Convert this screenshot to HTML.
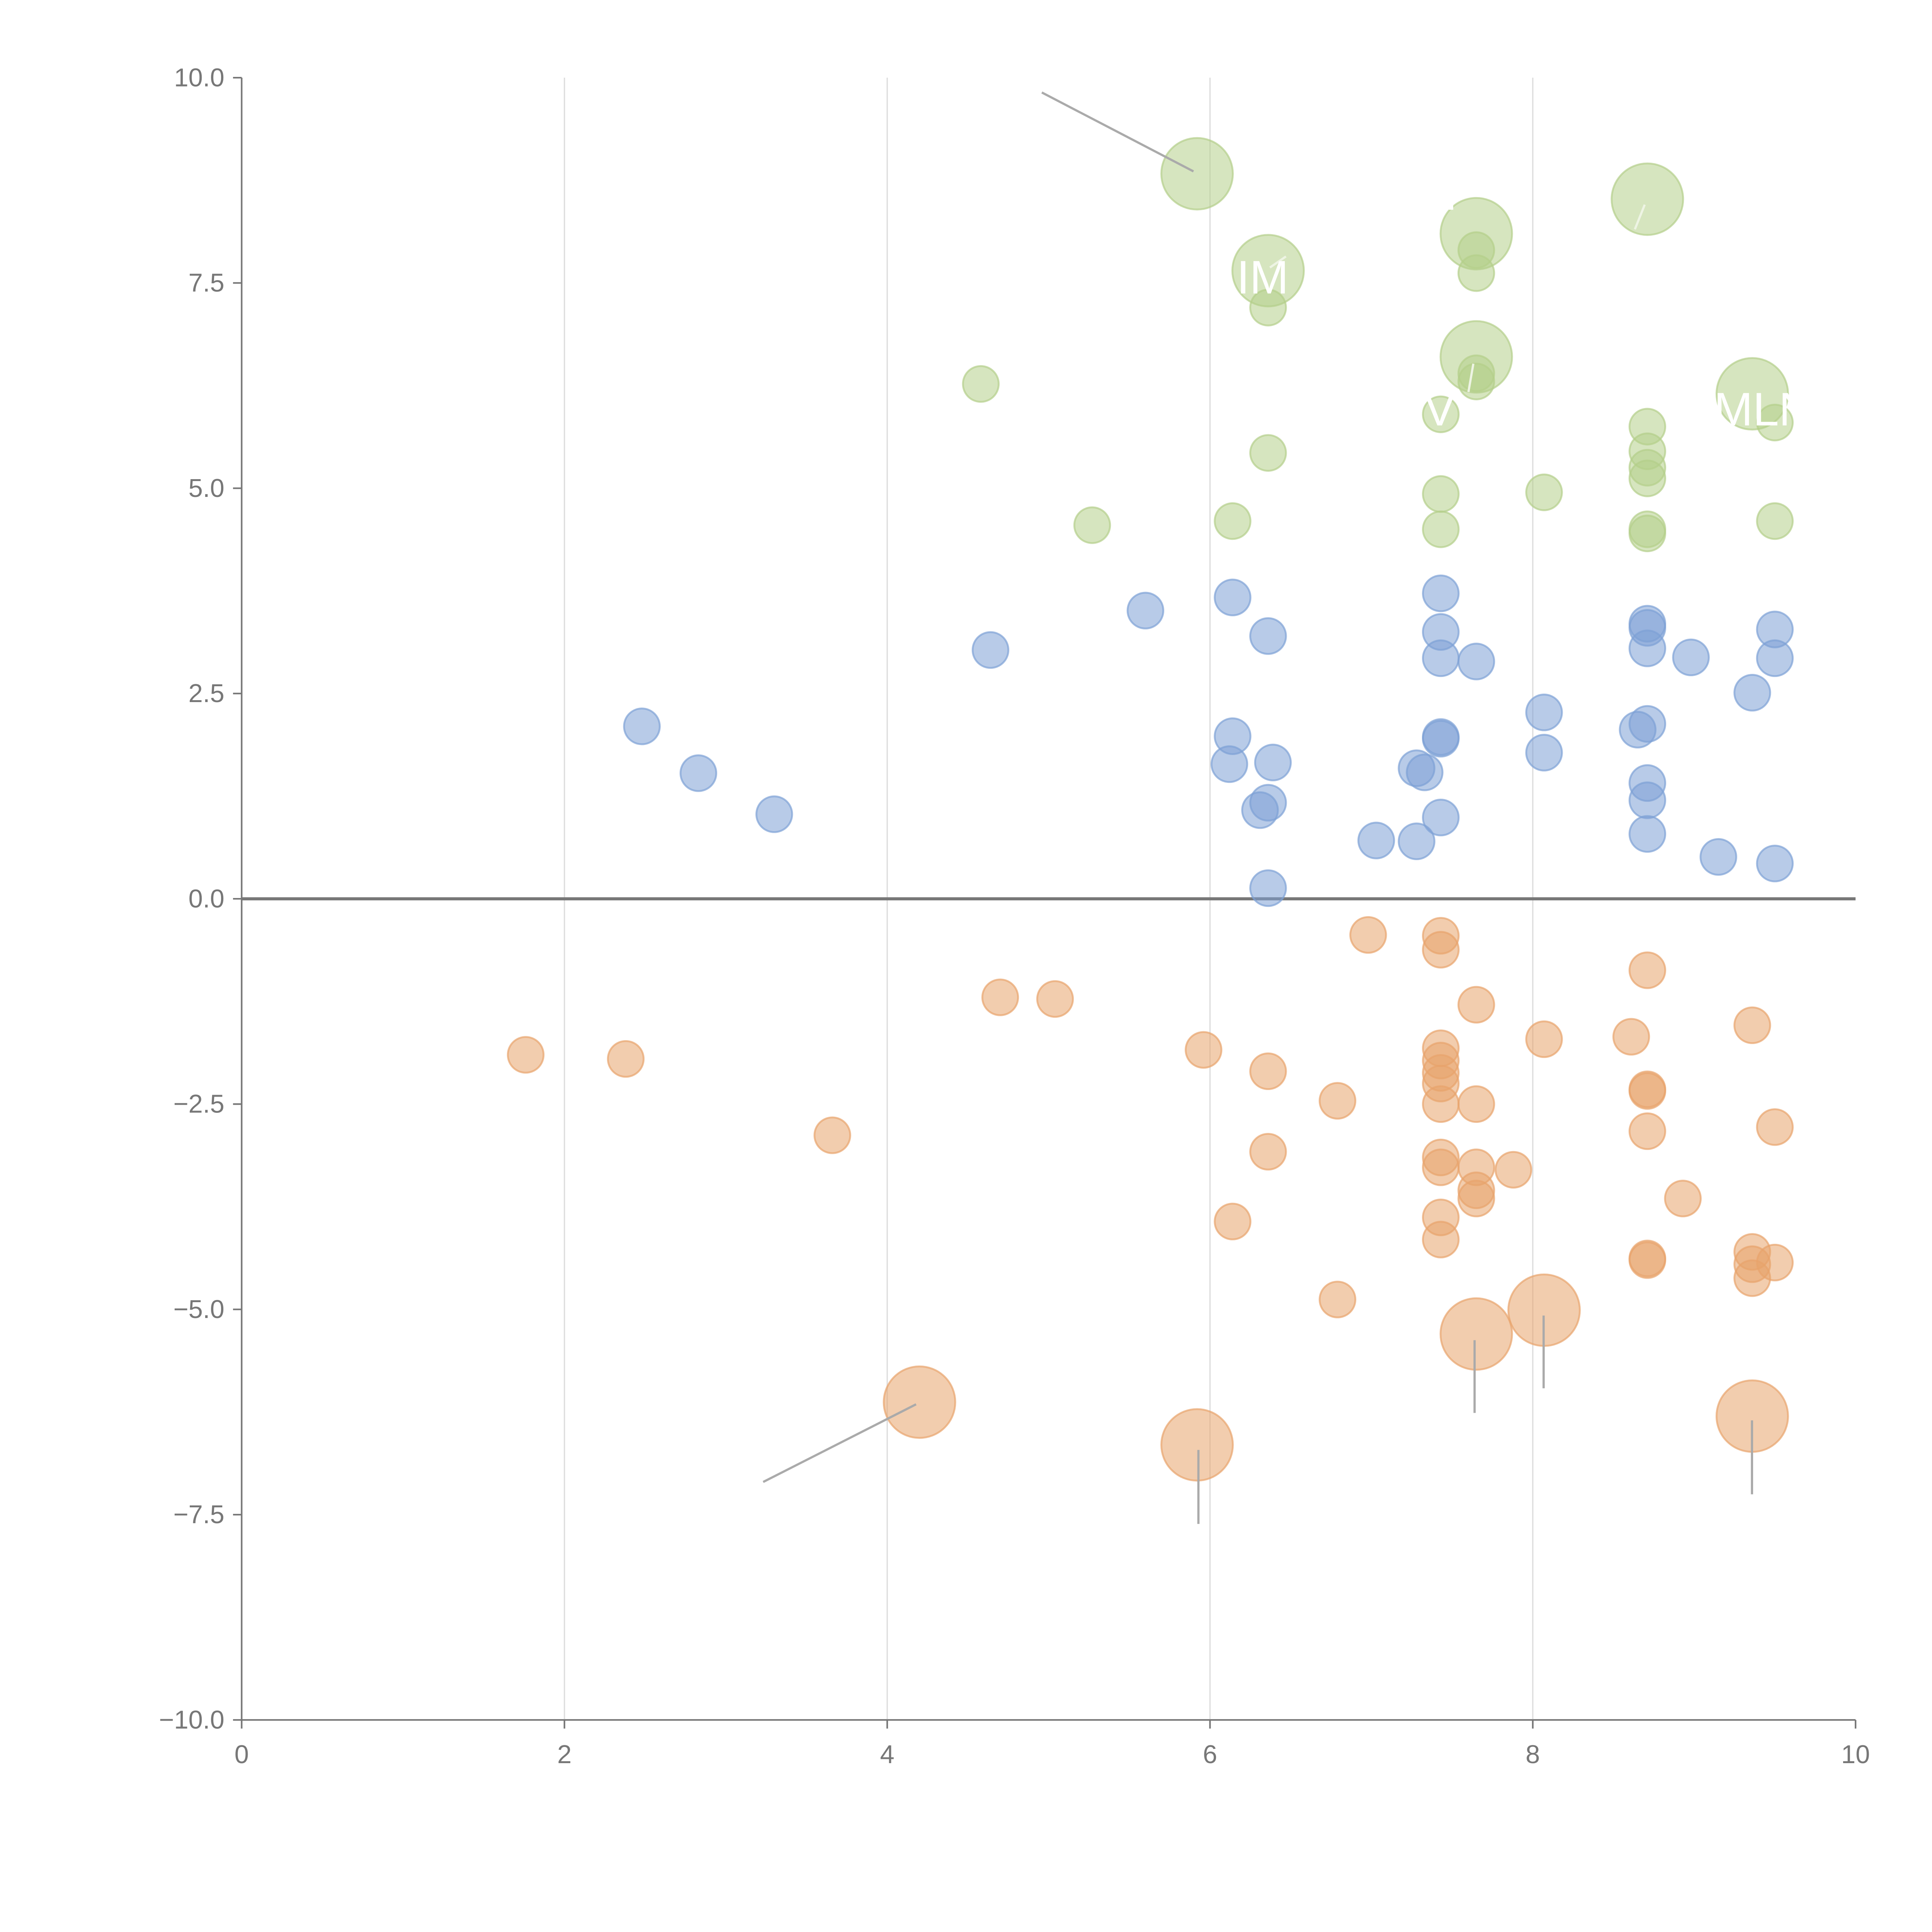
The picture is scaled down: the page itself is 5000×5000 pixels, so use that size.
<!DOCTYPE html>
<html><head><meta charset="utf-8"><style>html,body{margin:0;padding:0;background:#fff}svg{display:block}</style></head>
<body>
<svg id="chart" width="5000" height="5000" viewBox="0 0 1567 1567" xmlns="http://www.w3.org/2000/svg" font-family="Liberation Sans, sans-serif">
<g id="grid"></g>
<g id="axes"></g>
<g id="marks"></g>
<g id="labels"></g>
</svg>
<script>
const xTicks=[0,2,4,6,8,10];
const yTicks=[10,7.5,5,2.5,0,-2.5,-5,-7.5,-10];
const yTickLabels=["10.0","7.5","5.0","2.5","0.0","\u22122.5","\u22125.0","\u22127.5","\u221210.0"];
const greenX=[4.58,5.27,6.14,6.36,6.36,7.43,7.43,7.43,7.65,7.65,7.65,7.65,8.07,8.71,8.71,8.71,8.71,8.71,8.71,9.5,9.5,5.92,6.36,7.65,7.65,8.71,9.36];
const greenY=[6.27,4.55,4.6,5.43,7.2,5.9,4.93,4.5,7.9,7.62,6.4,6.3,4.95,5.75,5.45,5.25,5.12,4.5,4.45,5.8,4.6,8.83,7.65,8.1,6.6,8.52,6.15];
const greenSize=[1,1,1,1,1,1,1,1,1,1,1,1,1,1,1,1,1,1,1,1,1,2,2,2,2,2,2];
const blueX=[2.48,2.83,3.3,4.64,5.6,6.14,6.36,6.14,6.12,6.39,6.36,6.31,6.36,7.03,7.28,7.33,7.28,7.43,7.43,7.43,7.43,7.43,7.43,7.65,8.07,8.07,8.65,8.71,8.71,8.71,8.71,8.71,8.71,8.71,8.98,9.15,9.36,9.5,9.5,9.5];
const blueY=[2.1,1.53,1.03,3.03,3.51,3.67,3.2,1.98,1.64,1.66,1.17,1.08,0.13,0.71,1.59,1.54,0.7,3.72,3.25,2.93,1.95,1.97,0.99,2.89,2.27,1.78,2.06,2.13,3.35,3.3,3.05,1.41,1.2,0.79,2.94,0.51,2.51,3.28,2.93,0.43];
const orangeX=[1.76,2.38,3.66,4.7,5.04,5.96,6.36,6.36,6.14,6.79,6.79,6.98,7.43,7.43,7.43,7.43,7.43,7.43,7.43,7.43,7.43,7.43,7.43,7.65,7.65,7.65,7.65,7.65,7.88,8.07,8.61,8.71,8.71,8.71,8.71,8.71,8.71,8.93,9.36,9.36,9.36,9.36,9.5,9.5,4.2,5.92,7.65,8.07,9.36];
const orangeY=[-1.9,-1.95,-2.88,-1.2,-1.22,-1.84,-2.1,-3.08,-3.93,-2.46,-4.88,-0.44,-0.45,-0.62,-1.82,-1.97,-2.12,-2.25,-2.5,-3.15,-3.27,-3.88,-4.15,-1.29,-2.5,-3.27,-3.55,-3.65,-3.3,-1.71,-1.68,-0.87,-2.32,-2.34,-2.83,-4.38,-4.4,-3.65,-1.54,-4.3,-4.45,-4.62,-2.78,-4.43,-6.13,-6.65,-5.3,-5.01,-6.3];
const orangeSize=[1,1,1,1,1,1,1,1,1,1,1,1,1,1,1,1,1,1,1,1,1,1,1,1,1,1,1,1,1,1,1,1,1,1,1,1,1,1,1,1,1,1,1,1,2,2,2,2,2];

const X=v=>196+v*(1505-196)/10;
const Y=v=>729-v*(1395-63)/20;
const NS="http://www.w3.org/2000/svg";
function mk(tag,parent,attrs){const e=document.createElementNS(NS,tag);for(const k in attrs)e.setAttribute(k,attrs[k]);parent.appendChild(e);return e;}
const grid=document.getElementById('grid'),axes=document.getElementById('axes'),marks=document.getElementById('marks'),labels=document.getElementById('labels');
xTicks.forEach(t=>{
  if(t>0&&t<10){const g=mk('line',grid,{x1:X(t),x2:X(t),y1:Y(10),y2:Y(-10),stroke:'#dcdcdc','stroke-width':1});
  
  }
  const tk=mk('line',axes,{x1:X(t),x2:X(t),y1:Y(-10),y2:Y(-10)+7,stroke:'#777','stroke-width':1.3});
  
  
  const tx=mk('text',axes,{x:X(t),y:Y(-10)+35,'text-anchor':'middle','font-size':21,fill:'#777'});
  tx.textContent=t;
  
  
});
yTicks.forEach((t,i)=>{
  const tk=mk('line',axes,{x1:X(0)-7,x2:X(0),y1:Y(t),y2:Y(t),stroke:'#777','stroke-width':1.3});
  
  
  const tx=mk('text',axes,{x:X(0)-14,y:Y(t)+7,'text-anchor':'end','font-size':21,fill:'#777'});
  tx.textContent=yTickLabels[i];
  
  
});
const xa=mk('line',axes,{x1:X(0),x2:X(10),y1:Y(-10),y2:Y(-10),stroke:'#777','stroke-width':1.3});


const ya=mk('line',axes,{x1:X(0),x2:X(0),y1:Y(10),y2:Y(-10),stroke:'#777','stroke-width':1.3});


const zl=mk('line',axes,{x1:X(0),x2:X(10),y1:Y(0),y2:Y(0),stroke:'#777','stroke-width':2.5});



function series(xs,ys,sz,col,name){
  xs.forEach((x,i)=>{
    const s=sz?sz[i]:1;
    const c=mk('circle',marks,{cx:X(x),cy:Y(ys[i]),r:s===2?29:14.5,fill:col,'fill-opacity':0.55,stroke:col,'stroke-opacity':0.7,'stroke-width':1.5});
    
    
  });
}
series(greenX,greenY,greenSize,'#b4cf8a','green');
series(blueX,blueY,null,'#7ea1d6','blue');
series(orangeX,orangeY,orangeSize,'#e8a46c','orange');

const leaders=[[968,139,845,75,'#aaa'],[743,1139,619,1202,'#aaa'],[972,1176,972,1236,'#aaa'],[1196,1087,1196,1146,'#aaa'],[1252,1067,1252,1126,'#aaa'],[1421,1152,1421,1212,'#aaa'],[1195,295,1191,318,'#eef4e4'],[1334,166,1326,186,'#eef4e4'],[1030,217,1043,208,'#eef4e4']];
leaders.forEach(l=>{
  const e=mk('line',labels,{x1:l[0],y1:l[1],x2:l[2],y2:l[3],stroke:l[4],'stroke-width':1.8});
  
  
});
const txts=[['IM',1003,238],['P',1172,170],['V',1155,345],['MLN',1390,345]];
txts.forEach(t=>{
  const e=mk('text',labels,{x:t[1],y:t[2],'font-size':38,fill:'#fff'});
  e.textContent=t[0];
  
  
});
</script>
</body></html>
